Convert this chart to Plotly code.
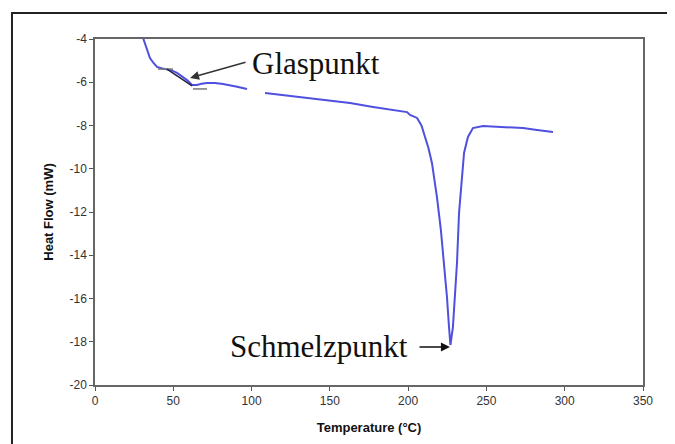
import plotly.graph_objects as go

# DSC curve (temperature in °C, heat flow in mW); None marks the gap in the trace
temperature = [30.7, 33.0, 35.1, 37.5, 39.6, 43.0, 46.0, 49.0, 52.4, 55.5, 58.8, 62.0, 65.1, 68.0, 71.5,
               76.6, 81.8, 90.0, 97.1, 102.0, 108.6, 125.0, 145.6, 162.9, 177.6, 190.0, 199.3, 201.2,
               205.7, 208.5, 210.8, 213.0, 215.2, 218.4, 220.9, 223.0, 224.8, 226.1, 227.0, 228.6,
               229.9, 231.2, 232.5, 234.4, 235.7, 238.2, 241.4, 247.8, 258.7, 273.4, 282.3, 292.5]
heat_flow = [-3.95, -4.45, -4.88, -5.12, -5.29, -5.36, -5.39, -5.45, -5.57, -5.72, -5.90, -6.13, -6.13, -6.07, -6.03,
             -6.03, -6.08, -6.20, -6.31, None, -6.50, -6.64, -6.82, -6.96, -7.14, -7.27, -7.38, -7.51,
             -7.65, -8.00, -8.53, -9.05, -9.73, -11.31, -12.83, -14.36, -15.93, -17.32, -18.15, -17.32,
             -15.93, -14.36, -12.05, -10.52, -9.27, -8.53, -8.12, -8.02, -8.07, -8.12, -8.21, -8.30]

# glass-transition construction lines
upper_tangent_t = [40.2, 49.8]
upper_tangent_v = [-5.39, -5.39]
lower_tangent_t = [62.6, 71.5]
lower_tangent_v = [-6.31, -6.31]
slope_tangent_t = [46.0, 62.0]
slope_tangent_v = [-5.39, -6.17]

x_ticks = [0, 50, 100, 150, 200, 250, 300, 350]
y_ticks = [-4, -6, -8, -10, -12, -14, -16, -18, -20]
y_tick_labels = ["-4", "-6", "-8", "-10", "-12", "-14", "-16", "-18", "-20"]

fig = go.Figure()
fig.add_trace(go.Scatter(x=temperature, y=heat_flow, mode="lines", connectgaps=False,
                         line=dict(color="#4f4fe0", width=2), showlegend=False))
fig.add_trace(go.Scatter(x=upper_tangent_t, y=upper_tangent_v, mode="lines",
                         line=dict(color="#777777", width=1.5), showlegend=False))
fig.add_trace(go.Scatter(x=lower_tangent_t, y=lower_tangent_v, mode="lines",
                         line=dict(color="#777777", width=1.5), showlegend=False))
fig.add_trace(go.Scatter(x=slope_tangent_t, y=slope_tangent_v, mode="lines",
                         line=dict(color="#222244", width=1.5), showlegend=False))

serif = "Liberation Serif, Times New Roman, serif"
fig.add_annotation(x=60.7, y=-5.80, ax=97.1, ay=-5.06, axref="x", ayref="y", text="",
                   showarrow=True, arrowhead=2, arrowsize=1.2, arrowwidth=1.5, arrowcolor="#333333")
fig.add_annotation(x=99.0, y=-5.11, text="Glaspunkt", showarrow=False, xanchor="left", yanchor="middle",
                   font=dict(family=serif, size=31, color="#111111"))
fig.add_annotation(x=226.7, y=-18.24, ax=206.3, ay=-18.24, axref="x", ayref="y", text="",
                   showarrow=True, arrowhead=2, arrowsize=1.2, arrowwidth=1.5, arrowcolor="#111111")
fig.add_annotation(x=201.2, y=-18.24, text="Schmelzpunkt", showarrow=False, xanchor="right", yanchor="middle",
                   font=dict(family=serif, size=31, color="#111111"))

# outer frame
fig.add_shape(type="rect", xref="paper", yref="paper", x0=-0.1515, x1=1.1, y0=-0.25, y1=1.0751,
              line=dict(color="#222222", width=2), fillcolor="rgba(0,0,0,0)", layer="above")

sans = "Liberation Sans, Arial, sans-serif"
fig.update_layout(
    width=675, height=444,
    margin=dict(l=87, r=40, t=31, b=67),
    paper_bgcolor="white", plot_bgcolor="white",
    font=dict(family=sans, size=12, color="#333333"),
    xaxis=dict(range=[0, 350], tickvals=x_ticks, showgrid=False, zeroline=False,
               showline=True, mirror=True, linecolor="#666666", linewidth=1.5,
               ticks="outside", ticklen=4, tickcolor="#555555",
               title=dict(text="<b>Temperature (°C)</b>", font=dict(size=13, color="#111111"), standoff=16)),
    yaxis=dict(range=[-20, -4], tickvals=y_ticks, ticktext=y_tick_labels, showgrid=False, zeroline=False,
               showline=True, mirror=True, linecolor="#666666", linewidth=1.5,
               ticks="outside", ticklen=4, tickcolor="#555555",
               title=dict(text="<b>Heat Flow (mW)</b>", font=dict(size=13, color="#111111"), standoff=13)),
)

fig.write_html("out.html")
